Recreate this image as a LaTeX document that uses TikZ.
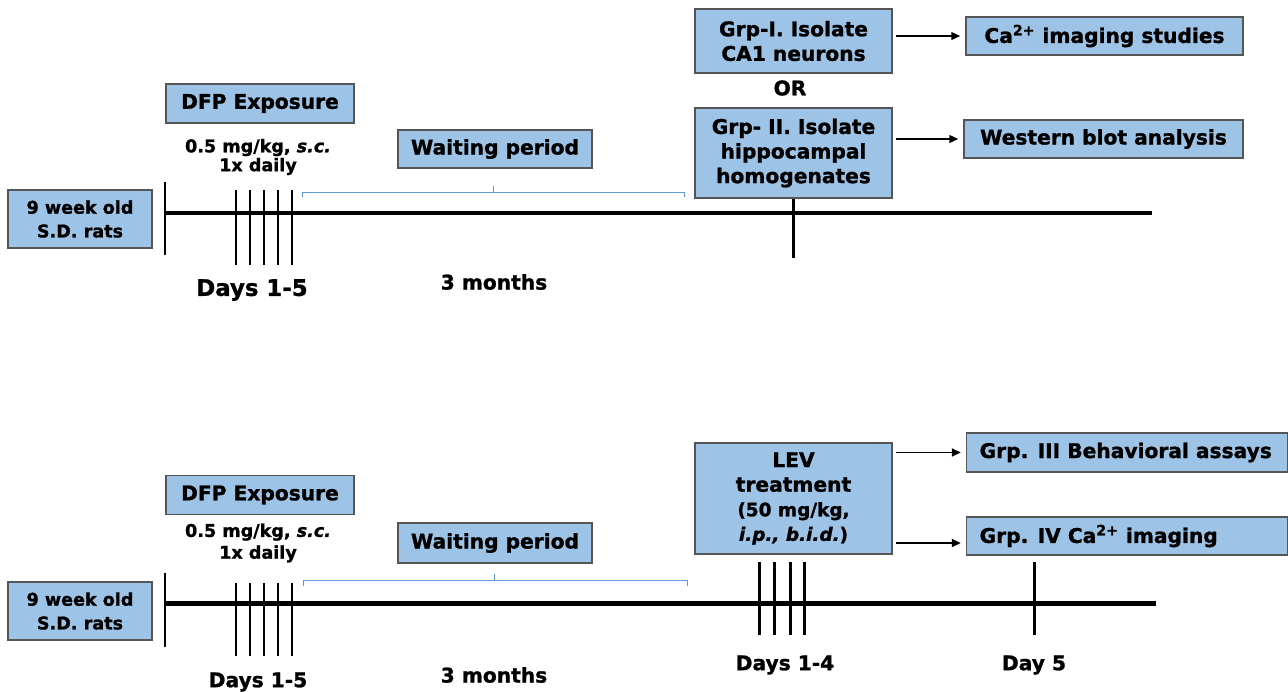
\documentclass[tikz,border=0pt]{standalone}
\usepackage{fontspec}
\setmainfont{DejaVu Sans}[BoldFeatures={FakeBold=1.2}, BoldItalicFeatures={FakeBold=1.2}]
\usetikzlibrary{arrows.meta}
\definecolor{boxblue}{RGB}{157,195,230}
\definecolor{boxline}{RGB}{85,85,85}
\definecolor{braceblue}{RGB}{91,155,213}

\begin{document}
\begin{tikzpicture}[x=0.02cm, y=-0.02cm,
  box/.style={draw=boxline, line width=0.7pt, fill=boxblue, align=center, inner sep=0pt, font=\bfseries\fontsize{11.5}{14}\selectfont},
  axis/.style={line width=2.3pt},
  tick/.style={line width=1.7pt},
  brace/.style={draw=braceblue, line width=0.5pt},
  lbl/.style={inner sep=0pt, align=center, font=\bfseries\fontsize{11.5}{13}\selectfont},
  arr/.style={-{Triangle[length=5pt,width=4.5pt]}, line width=0.8pt, shorten <=2pt, shorten >=3pt}]
\useasboundingbox (0,0) rectangle (1288,691);

% ---------- top timeline ----------
\node[box, minimum width=2.88cm, minimum height=1.16cm, font=\bfseries\fontsize{10}{13.5}\selectfont] (ratsA) at (80,219) {9 week old\\S.D. rats};
\draw[tick] (165,182) -- (165,255);
\draw[axis] (165,213) -- (1152,213);
\foreach \x in {236,250,264,278,292} \draw[tick] (\x,190) -- (\x,265);
\node[lbl, font=\bfseries\fontsize{13}{15}\selectfont] (daysA) at (252,290) {Days 1-5};

% exposure
\node[box, minimum width=3.76cm, minimum height=0.78cm] (dfpA) at (260,103.5) {DFP Exposure};
\node[lbl, font=\bfseries\fontsize{10}{9.5}\selectfont] (doseA) at (258,157) {0.5 mg/kg, \textit{s.c.}\\1x daily};

% waiting period
\draw[brace] (302,197) -- (302,192) -- (684,192) -- (684,197) (493,192) -- (493,186);
\node[box, minimum width=3.88cm, minimum height=0.76cm] (waitA) at (495,149) {Waiting period};
\node[lbl] (monthsA) at (494,282) {3 months};

% groups I and II
\node[box, minimum width=3.94cm, minimum height=1.28cm] (grpI) at (793.5,41) {Grp-I. Isolate\\CA1 neurons};
\node[lbl] (orA) at (790,88) {OR};
\node[box, minimum width=3.94cm, minimum height=1.8cm] (grpII) at (793.5,153) {Grp- II. Isolate\\hippocampal\\homogenates};
\draw[tick] (grpII.south) -- ++(0,59);
\node[box, minimum width=5.54cm, minimum height=0.76cm] (caA) at (1104.5,36) {Ca\textsuperscript{2+} imaging studies};
\node[box, minimum width=5.58cm, minimum height=0.76cm] (wbA) at (1103.5,139) {Western blot analysis};
\draw[arr] (grpI.east |- caA.west) -- (caA.west);
\draw[arr] (grpII.east |- wbA.west) -- (wbA.west);

% ---------- bottom timeline ----------
\node[box, minimum width=2.88cm, minimum height=1.16cm, font=\bfseries\fontsize{10}{13.5}\selectfont] (ratsB) at (80,611) {9 week old\\S.D. rats};
\draw[tick] (165,573) -- (165,647);
\draw[axis] (165,603.5) -- (1156,603.5);
\foreach \x in {236,250,264,278,292} \draw[tick] (\x,583) -- (\x,656);
\node[lbl] (daysB) at (258,682) {Days 1-5};

% exposure
\node[box, minimum width=3.76cm, minimum height=0.78cm] (dfpB) at (260,495) {DFP Exposure};
\node[lbl, font=\bfseries\fontsize{10}{12.4}\selectfont] (doseB) at (258,543) {0.5 mg/kg, \textit{s.c.}\\1x daily};

% waiting period
\draw[brace] (303,586) -- (303,580) -- (687,580) -- (687,586) (494,580) -- (494,574);
\node[box, minimum width=3.88cm, minimum height=0.8cm] (waitB) at (495,543) {Waiting period};
\node[lbl] (monthsB) at (494,675) {3 months};

% LEV treatment
\node[box, minimum width=3.94cm, minimum height=2.22cm] (lev) at (793.5,498.5) {LEV\\treatment\\\fontsize{10.5}{11.5}\selectfont(50 mg/kg,\\\fontsize{10.5}{11.5}\selectfont\textit{i.p., b.i.d.})};
\foreach \x in {759,774,790,804} \draw[tick] (\x,562) -- (\x,635);
\node[lbl] (daysLev) at (785,665) {Days 1-4};
\draw[tick] (1034,562) -- (1034,635);
\node[lbl] (dayFive) at (1034,665) {Day 5};

% groups III and IV
\node[box, anchor=west, minimum height=0.78cm, inner xsep=0.26cm, text width=5.9cm, align=flush left] (grpIII) at (966,452.5) {Grp. III Behavioral assays};
\node[box, anchor=west, minimum height=0.76cm, inner xsep=0.26cm, text width=5.9cm, align=flush left] (grpIV) at (966,536) {Grp. IV Ca\textsuperscript{2+} imaging};
\draw[arr] (lev.east |- grpIII.west) -- (grpIII.west);
\draw[arr] (lev.east |- 0,543) -- (grpIV.west |- 0,543);
\end{tikzpicture}
\end{document}
